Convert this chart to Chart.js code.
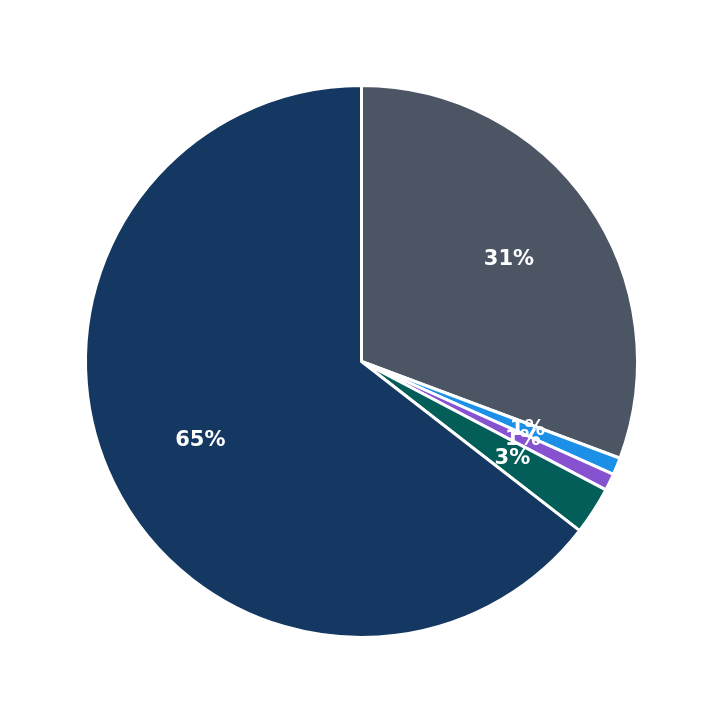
<!DOCTYPE html>
<html><head><script src="https://cdn.jsdelivr.net/npm/chart.js"></script>
<style>html,body{margin:0;padding:0;background:#fff}</style></head>
<body><div style="width:723px;height:723px"><canvas id="c"></canvas></div>
<script>
const categories = ["A","B","C","D","E"];
const values = [30.7, 1.0, 1.0, 2.8, 64.5];
const labels = ["31%","1%","1%","3%","65%"];
const colors = ["#4B5563","#1C8FE6","#8652CF","#035E5A","#143861"];
const labelPlugin = {
  id:'lbl',
  afterDatasetsDraw(chart){
    const ctx=chart.ctx; const meta=chart.getDatasetMeta(0);
    ctx.save(); ctx.fillStyle='#fff'; ctx.font='bold 21px "DejaVu Sans"';
    ctx.textAlign='center'; ctx.textBaseline='middle';
    meta.data.forEach((arc,i)=>{
      const a=(arc.startAngle+arc.endAngle)/2, r=arc.outerRadius*0.65;
      ctx.fillText(labels[i], arc.x+Math.cos(a)*r, arc.y+Math.sin(a)*r);
    });
    ctx.restore();
  }
};
new Chart(document.getElementById('c'),{
  type:'pie',
  data:{labels:categories,datasets:[{data:values,backgroundColor:colors,borderColor:'#fff',borderWidth:3}]},
  options:{responsive:true,maintainAspectRatio:false,animation:false,
    layout:{padding:84},
    plugins:{legend:{display:false},tooltip:{enabled:false}}},
  plugins:[labelPlugin]
});
</script></body></html>
